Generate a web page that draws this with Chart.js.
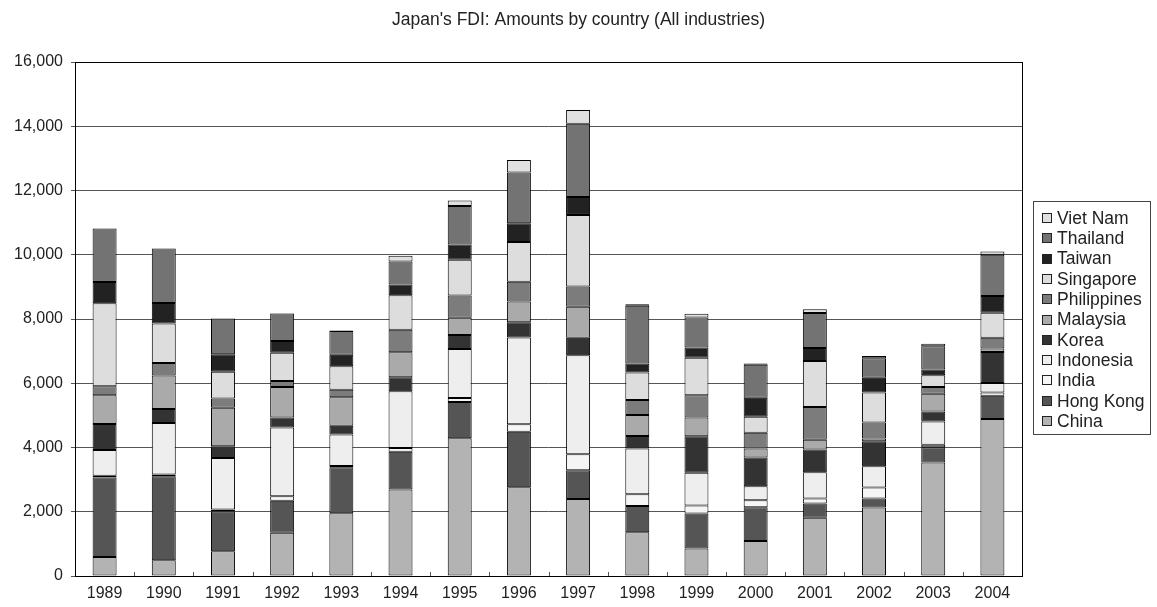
<!DOCTYPE html>
<html>
<head>
<meta charset="utf-8">
<script src="https://cdn.jsdelivr.net/npm/chart.js@4/dist/chart.umd.min.js"></script>
<style>
  html, body { margin: 0; padding: 0; background: #fff; }
  #wrap { width: 1157px; height: 607px; position: relative; }
</style>
</head>
<body>
<div id="wrap"><canvas id="c" width="1157" height="607"></canvas></div>
<script>
const titleText = "Japan's FDI: Amounts by country (All industries)";
const years = ["1989","1990","1991","1992","1993","1994","1995","1996","1997","1998","1999","2000","2001","2002","2003","2004"];
const yTicks = [0, 2000, 4000, 6000, 8000, 10000, 12000, 14000, 16000];

const china       = [590, 490, 770, 1350, 1950, 2690, 4285, 2765, 2400, 1360, 853, 1090, 1815, 2130, 3535, 4890];
const hongKong    = [2480, 2614, 1235, 990, 1436, 1176, 1128, 1729, 890, 822, 1092, 1050, 440, 282, 470, 719];
const india       = [52, 52, 63, 146, 42, 115, 124, 228, 497, 364, 249, 219, 157, 344, 84, 105];
const indonesia   = [800, 1608, 1609, 2134, 978, 1769, 1532, 2701, 3084, 1425, 1020, 437, 814, 658, 719, 292];
const korea       = [809, 436, 363, 312, 271, 438, 435, 476, 549, 385, 1133, 894, 710, 783, 313, 970];
const malaysia    = [893, 1038, 1194, 948, 885, 780, 538, 642, 963, 655, 583, 281, 303, 83, 553, 104];
const philippines = [280, 395, 290, 187, 239, 698, 693, 621, 631, 468, 696, 489, 1023, 502, 209, 334];
const singapore   = [2585, 1225, 831, 885, 729, 1072, 1108, 1231, 2225, 853, 1165, 499, 1430, 929, 365, 782];
const taiwan      = [664, 643, 550, 364, 354, 333, 476, 590, 559, 280, 323, 593, 407, 459, 177, 522];
const thailand    = [1661, 1692, 1110, 854, 739, 718, 1201, 1574, 2277, 1800, 936, 1020, 1086, 606, 730, 1283];
const vietNam     = [0, 0, 0, 10, 20, 177, 165, 393, 430, 50, 114, 40, 115, 73, 73, 104];

const seriesNames  = ["China","Hong Kong","India","Indonesia","Korea","Malaysia","Philippines","Singapore","Taiwan","Thailand","Viet Nam"];
const seriesValues = [china, hongKong, india, indonesia, korea, malaysia, philippines, singapore, taiwan, thailand, vietNam];
const seriesColors = ["#b3b3b3","#555555","#f5f5f5","#eeeeee","#333333","#aaaaaa","#7c7c7c","#dddddd","#222222","#737373","#e0e0e0"];

const FONT = '"Liberation Sans", Arial, Helvetica, sans-serif';
const TEXT = '#222222';

const datasets = seriesNames.map((n, i) => ({
  label: n,
  data: seriesValues[i],
  backgroundColor: seriesColors[i],
  borderColor: '#000000',
  borderWidth: 1,
  borderSkipped: false,
  categoryPercentage: 1.0,
  barPercentage: 0.405
}));

const decorPlugin = {
  id: 'decor',
  afterDraw(chart) {
    const ctx = chart.ctx;
    const a = chart.chartArea;
    ctx.save();
    ctx.strokeStyle = '#000';
    ctx.lineWidth = 1;
    ctx.strokeRect(Math.round(a.left) + 0.5, Math.round(a.top) + 0.5, Math.round(a.right - a.left), Math.round(a.bottom - a.top));
    const xs = chart.scales.x;
    const n = years.length;
    ctx.beginPath();
    for (let i = 1; i < n; i++) {
      const x = Math.round((xs.getPixelForValue(i - 1) + xs.getPixelForValue(i)) / 2) + 0.5;
      ctx.moveTo(x, a.bottom);
      ctx.lineTo(x, a.bottom - 4);
    }
    ctx.strokeStyle = '#555';
    ctx.stroke();
    ctx.fillStyle = TEXT;
    ctx.font = '17.5px ' + FONT;
    ctx.textAlign = 'center';
    ctx.textBaseline = 'middle';
    ctx.fillText(titleText, chart.width / 2, 20);
    const lx = 1033.5, ly = 201.5, lw = 117, lh = 233;
    ctx.strokeStyle = '#444';
    ctx.strokeRect(lx, ly, lw, lh);
    ctx.font = '17.5px ' + FONT;
    ctx.textAlign = 'left';
    const ds = chart.data.datasets;
    for (let k = 0; k < ds.length; k++) {
      const d = ds[ds.length - 1 - k];
      const cy = 218 + k * 20.3;
      ctx.fillStyle = d.backgroundColor;
      ctx.fillRect(1042, Math.round(cy - 5), 10, 10);
      ctx.strokeStyle = '#222';
      ctx.strokeRect(1042.5, Math.round(cy - 5) + 0.5, 9, 9);
      ctx.fillStyle = TEXT;
      ctx.fillText(d.label, 1057, cy + 1);
    }
    ctx.restore();
  }
};

new Chart(document.getElementById('c'), {
  type: 'bar',
  data: { labels: years, datasets: datasets },
  options: {
    responsive: false,
    animation: false,
    layout: { padding: { top: 62, right: 135, bottom: 0, left: 0 } },
    plugins: {
      legend: { display: false },
      title: { display: false },
      tooltip: { enabled: false }
    },
    scales: {
      x: {
        stacked: true,
        grid: { display: false, drawTicks: false },
        border: { display: false },
        ticks: { color: TEXT, font: { family: FONT, size: 16 }, padding: 8, maxRotation: 0 },
        afterFit(s) { s.height = 31; }
      },
      y: {
        stacked: true,
        min: 0, max: 16000,
        afterBuildTicks(s) { s.ticks = yTicks.map(v => ({ value: v })); },
        grid: { color: '#555', lineWidth: 1, tickLength: 4, drawTicks: true },
        border: { display: false },
        ticks: {
          color: TEXT, font: { family: FONT, size: 16 }, padding: 8,
          callback: v => v.toLocaleString('en-US')
        },
        afterFit(s) { s.width = 75; }
      }
    }
  },
  plugins: [decorPlugin]
});
</script>
</body>
</html>
